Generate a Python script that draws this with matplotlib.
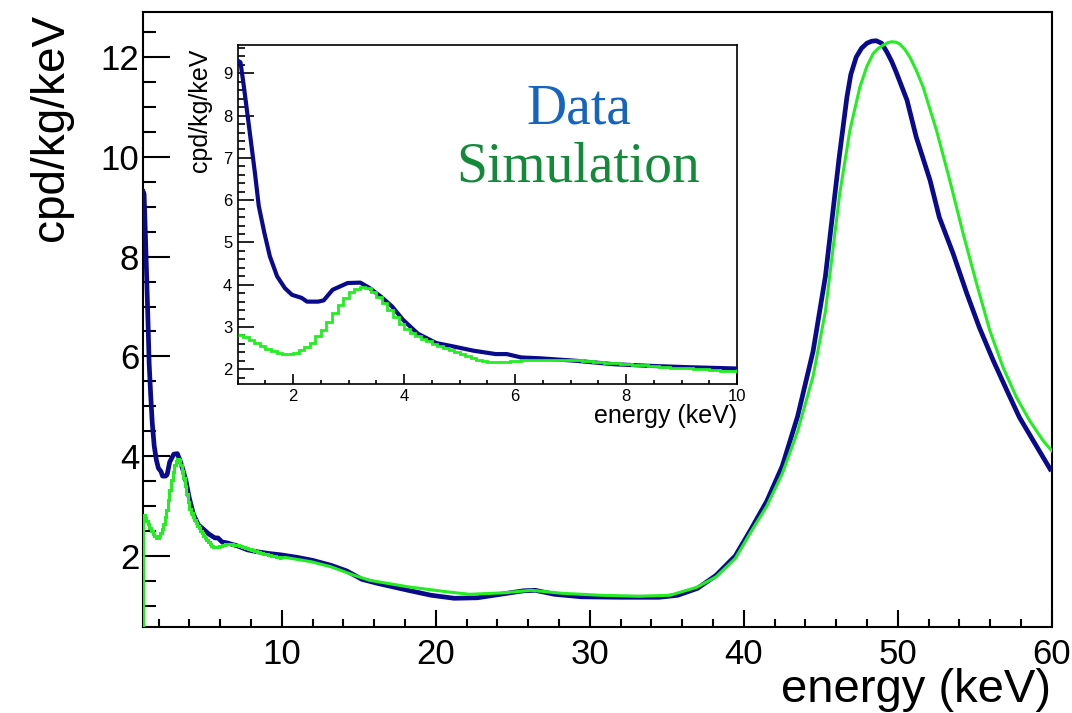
import numpy as np
import matplotlib
matplotlib.use("Agg")
import matplotlib.pyplot as plt
from matplotlib.ticker import MultipleLocator

# ---------------- data ----------------
data_E = [1.0, 1.05, 1.11, 1.21, 1.31, 1.38, 1.48, 1.58, 1.71, 1.85, 1.98, 2.15, 2.25,
          2.45, 2.55, 2.71, 2.98, 3.21, 3.38, 3.58, 3.78, 3.98, 4.25, 4.58, 4.85, 5.25,
          5.65, 5.85, 6.11, 6.45, 7.11, 7.78, 8.45, 9.11, 9.95,
          11.0, 12.0, 13.2, 14.2, 15.2, 16.2, 18.2, 19.7, 21.2, 22.7, 24.2, 25.7, 26.45,
          27.7, 29.45, 32.0, 34.5, 35.7, 37.0, 38.2, 39.45, 40.5, 41.5, 42.5, 43.5, 44.5,
          45.3, 46.2, 46.7, 46.95, 47.3, 47.65, 48.0, 48.3, 48.6, 48.95, 49.3, 49.6, 49.9,
          50.6, 51.2, 52.1, 52.7, 53.6, 54.5, 55.3, 56.2, 57.1, 57.9, 58.8, 59.9]
data_rate = [9.30, 9.26, 8.70, 7.68, 6.65, 5.86, 5.23, 4.67, 4.20, 3.92, 3.76, 3.69, 3.60,
             3.60, 3.63, 3.88, 4.04, 4.05, 3.92, 3.72, 3.49, 3.17, 2.84, 2.62, 2.55, 2.44,
             2.36, 2.36, 2.28, 2.26, 2.20, 2.12, 2.08, 2.05, 2.02,
             1.97, 1.91, 1.81, 1.70, 1.53, 1.45, 1.31, 1.21, 1.15, 1.16, 1.23, 1.30, 1.31,
             1.23, 1.18, 1.17, 1.17, 1.21, 1.35, 1.61, 2.00, 2.55, 3.10, 3.80, 4.80, 6.10,
             7.60, 10.00, 11.20, 11.65, 12.00, 12.18, 12.28, 12.32, 12.33, 12.28, 12.10,
             11.92, 11.70, 11.14, 10.40, 9.53, 8.79, 8.06, 7.25, 6.58, 5.92, 5.31, 4.78,
             4.31, 3.74]

# simulation histogram, 0.1 keV bins between 1 and 10 keV
sim_edges_low = np.round(np.arange(1.0, 10.0001, 0.1), 2)
sim_low = [2.81, 2.76, 2.70, 2.63, 2.56, 2.49, 2.43, 2.39, 2.36, 2.36,
           2.39, 2.45, 2.53, 2.63, 2.78, 2.93, 3.13, 3.33, 3.52, 3.68,
           3.82, 3.91, 3.95, 3.92, 3.82, 3.70, 3.57, 3.41, 3.24, 3.08,
           2.95, 2.86, 2.78, 2.72, 2.66, 2.60, 2.55, 2.50, 2.45, 2.40,
           2.35, 2.31, 2.27, 2.23, 2.20, 2.18, 2.17, 2.17, 2.18, 2.19,
           2.20, 2.21, 2.22, 2.23, 2.23, 2.23, 2.23, 2.23, 2.22, 2.22,
           2.21, 2.21, 2.20, 2.19, 2.18, 2.17, 2.16, 2.15, 2.14, 2.13,
           2.12, 2.11, 2.10, 2.09, 2.08, 2.07, 2.06, 2.05, 2.04, 2.04,
           2.03, 2.02, 2.01, 2.00, 2.00, 1.99, 1.98, 1.97, 1.97, 1.96]
# simulation above 10 keV
sim_E_high = [10.0, 10.2, 11.95, 13.2, 14.7, 15.7, 18.2, 20.7, 22.2, 24.45, 26.2, 28.2,
              30.7, 33.2, 35.2, 36.95, 38.2, 39.45, 40.5, 41.5, 42.5, 43.5, 44.5, 45.3,
              46.23, 46.89, 47.54, 48.0, 48.4, 48.75, 49.05, 49.35, 49.6, 49.9, 50.14,
              50.45, 50.79, 51.2, 51.65, 52.52, 53.38, 54.25, 55.12, 55.98, 56.84, 57.71,
              58.57, 59.44, 60.0]
sim_high = [1.96, 1.97, 1.88, 1.78, 1.61, 1.51, 1.38, 1.28, 1.23, 1.26, 1.31, 1.25,
            1.21, 1.19, 1.21, 1.37, 1.58, 1.95, 2.50, 3.00, 3.65, 4.50, 5.60, 6.90,
            9.26, 10.53, 11.40, 11.82, 12.07, 12.18, 12.24, 12.29, 12.31, 12.30, 12.26,
            12.16, 12.00, 11.74, 11.40, 10.53, 9.53, 8.46, 7.46, 6.52, 5.78, 5.18,
            4.71, 4.31, 4.11]

main_xlim = (1.0, 60.0)
main_ylim = (0.58, 12.9)
inset_xlim = (1.0, 10.0)
inset_ylim = (1.664, 9.67)

BLUE = "#0a0a8c"
GREEN = "#22ee22"
DATA_TXT = "#1565c0"
SIM_TXT = "#138a3a"
SANS = ["Liberation Sans", "DejaVu Sans"]
SERIF = ["Liberation Serif", "DejaVu Serif"]

W, H = 1072, 713
plt.rcParams["font.family"] = SANS
fig = plt.figure(figsize=(W / 100, H / 100), dpi=100)


def px_rect(l, t, r, b):
    return [l / W, 1 - b / H, (r - l) / W, (b - t) / H]


# ---------------- main axes ----------------
ax = fig.add_axes(px_rect(143.3, 12.3, 1051.7, 626.7))
ax.plot(data_E, data_rate, color=BLUE, lw=3.4, solid_joinstyle="round", zorder=3)
ax.stairs(sim_low, sim_edges_low, baseline=None, color=GREEN, lw=2.2, zorder=4)
ax.plot(sim_E_high, sim_high, color=GREEN, lw=2.2, zorder=4)
ax.plot([sim_edges_low[0], sim_edges_low[0]], [main_ylim[0], sim_low[0]],
        color=GREEN, lw=2.2, zorder=4)
ax.set_xlim(*main_xlim)
ax.set_ylim(*main_ylim)
ax.xaxis.set_major_locator(MultipleLocator(10))
ax.xaxis.set_minor_locator(MultipleLocator(2))
ax.yaxis.set_major_locator(MultipleLocator(2))
ax.yaxis.set_minor_locator(MultipleLocator(0.5))
ax.tick_params(axis="x", which="major", direction="in", length=12.2, width=1.5,
               labelsize=25, pad=8, top=False)
ax.tick_params(axis="x", which="minor", direction="in", length=6.1, width=1.5, top=False)
ax.tick_params(axis="y", which="major", direction="in", length=19.4, width=1.5,
               labelsize=25, pad=3, right=False)
ax.tick_params(axis="y", which="minor", direction="in", length=9.7, width=1.5, right=False)
for s in ax.spines.values():
    s.set_linewidth(1.5)

fig.text(51 / W, 1 - 14 / H, "cpd/kg/keV", rotation=90, ha="center", va="top",
         fontsize=33, family=SANS)
fig.text(1051 / W, 1 - 702 / H, "energy (keV)", ha="right", va="baseline",
         fontsize=34, family=SANS)

# ---------------- inset ----------------
ins = fig.add_axes(px_rect(237.7, 45.0, 737.0, 383.5))
ins.set_facecolor("white")
ins.plot(data_E, data_rate, color=BLUE, lw=3.0, solid_joinstyle="round", zorder=3)
ins.stairs(sim_low, sim_edges_low, baseline=None, color=GREEN, lw=2.0, zorder=4)
ins.plot(sim_E_high, sim_high, color=GREEN, lw=2.0, zorder=4)
ins.set_xlim(*inset_xlim)
ins.set_ylim(*inset_ylim)
ins.xaxis.set_major_locator(MultipleLocator(2))
ins.xaxis.set_minor_locator(MultipleLocator(0.5))
ins.yaxis.set_major_locator(MultipleLocator(1))
ins.yaxis.set_minor_locator(MultipleLocator(0.2))
ins.tick_params(axis="x", which="major", direction="in", length=7.2, width=1.2,
                labelsize=12, pad=4, top=False)
ins.tick_params(axis="x", which="minor", direction="in", length=3.0, width=1.2, top=False)
ins.tick_params(axis="y", which="major", direction="in", length=11.5, width=1.2,
                labelsize=12, pad=4, right=False)
ins.tick_params(axis="y", which="minor", direction="in", length=5.0, width=1.2, right=False)
ins.set_yticks([2, 3, 4, 5, 6, 7, 8, 9])
ins.set_xticks([2, 4, 6, 8, 10])
for s in ins.spines.values():
    s.set_linewidth(1.2)

fig.text(200 / W, 1 - 49 / H, "cpd/kg/keV", rotation=90, ha="center", va="top",
         fontsize=18, family=SANS)
fig.text(737 / W, 1 - 423 / H, "energy (keV)", ha="right", va="baseline",
         fontsize=18, family=SANS)

fig.text(579 / W, 1 - 124 / H, "Data", ha="center", va="baseline",
         fontsize=40, color=DATA_TXT, family=SERIF)
fig.text(578 / W, 1 - 181 / H, "Simulation", ha="center", va="baseline",
         fontsize=40, color=SIM_TXT, family=SERIF)

fig.savefig("out.png", dpi=100)
